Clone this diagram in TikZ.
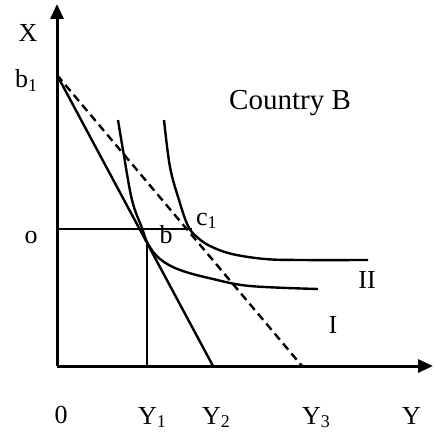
\documentclass[tikz,border=0pt]{standalone}
\usepackage{fontspec}
\setmainfont{Liberation Serif}
\usetikzlibrary{arrows.meta}
\newcommand\sbs[1]{\raisebox{-0.3ex}{\fontsize{18}{18}\selectfont #1}}
\begin{document}
\begin{tikzpicture}[x=1pt,y=-1pt,
  axis/.style={line width=3pt,-{Triangle[length=15pt,width=13pt]}},
  curve/.style={line width=2.4pt},
  budget/.style={line width=2.4pt},
  dashline/.style={line width=2.4pt,dash pattern=on 8pt off 5pt},
  guide/.style={line width=2.4pt},
  lbl/.style={inner sep=0pt,font=\fontsize{26}{30}\selectfont},
  big/.style={inner sep=0pt,font=\fontsize{29}{33}\selectfont}]
\useasboundingbox (0,0) rectangle (433,433);
\fill[white] (0,0) rectangle (433,433);
\coordinate (O) at (57,366);
\coordinate (Xtop) at (57,4);
\coordinate (Yend) at (433,366);
\coordinate (B1) at (57,75);
\coordinate (Y2p) at (213,366);
\coordinate (Y3p) at (302,366);
\coordinate (Ol) at (57,229);
\coordinate (Or) at (192,229);
\coordinate (Bp) at (147,243);
\coordinate (Y1p) at (147,366);
% axes
\draw[axis] (O) -- (Xtop);
\draw[axis] (O) -- (Yend);
% budget lines
\draw[budget] (B1) -- (Y2p);
\draw[dashline] (B1) -- (Y3p);
% guides
\draw[guide] (Ol) -- (Or);
\draw[guide] (Bp) -- (Y1p);
% indifference curves
\draw[curve] plot[smooth,tension=0.6] coordinates {(118,120) (123,150) (132,200) (142,228) (148,244) (160,259) (180,270) (213,279) (250,286) (318,289)};
\draw[curve] plot[smooth,tension=0.6] coordinates {(164,120) (170,167) (179,200) (188,226) (197,237) (210,246) (232,254) (265,259) (300,260) (368,260)};
% labels
\node[lbl,anchor=base] (lX) at (28,42) {X};
\node[lbl,anchor=base west] (lb1) at (15,88) {b\sbs{1}};
\node[lbl,anchor=base] (lo) at (31,243) {o};
\node[lbl,anchor=base] (lb) at (166,243) {b};
\node[lbl,anchor=base west] (lc1) at (196,225) {c\sbs{1}};
\node[big,anchor=base west] (lcountry) at (229,110) {Country B};
\node[lbl,anchor=base] (lII) at (367,288) {II};
\node[lbl,anchor=base] (lI) at (333,333) {I};
\node[lbl,anchor=base] (l0) at (61,423) {0};
\node[lbl,anchor=base west] (lY1) at (138,424) {Y\sbs{1}};
\node[lbl,anchor=base west] (lY2) at (202,424) {Y\sbs{2}};
\node[lbl,anchor=base west] (lY3) at (302,424) {Y\sbs{3}};
\node[lbl,anchor=base west] (lY) at (402,424) {Y};
\end{tikzpicture}
\end{document}
